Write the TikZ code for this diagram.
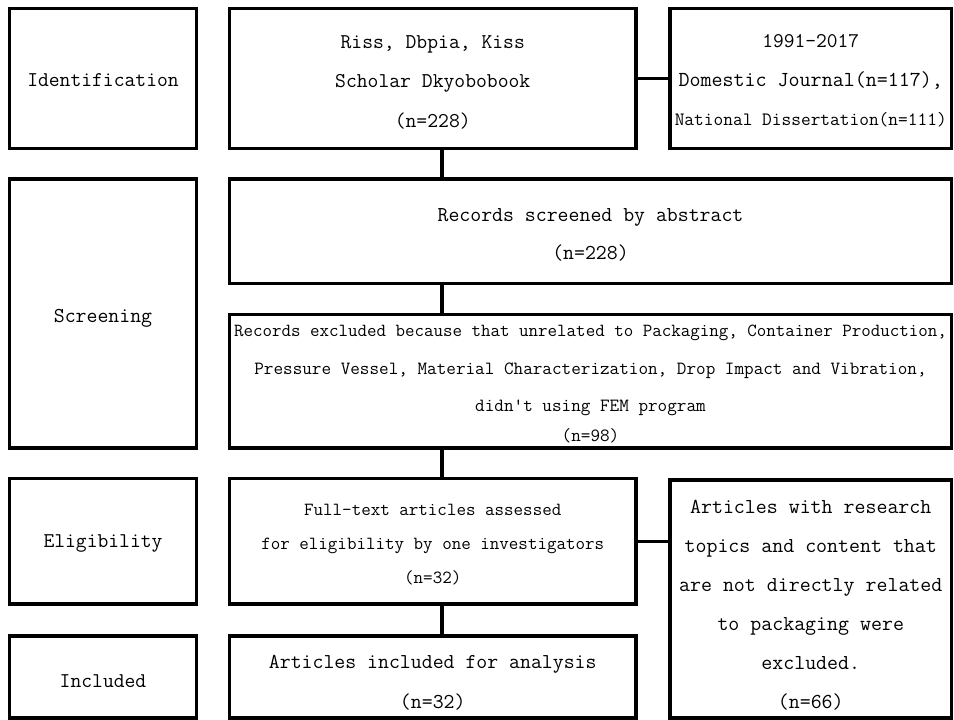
\documentclass[tikz,border=0pt]{standalone}
\newcommand{\fs}[2]{\fontsize{#1}{#2}\selectfont}
\tikzset{
  box/.style={draw, line width=3.2pt, inner sep=0pt, outer sep=0pt},
  txt/.style={inner sep=0pt, outer sep=0pt, align=center},
  conn/.style={line width=3.2pt},
}
\begin{document}
\begin{tikzpicture}[x=1pt,y=1pt]
\useasboundingbox (0,0) rectangle (954,-720);
% boxes
\node[box, minimum width=187pt, minimum height=140pt] (idl) at (103,-78.5) {};
\node[box, minimum width=187pt, minimum height=269pt] (scl) at (103,-313.5) {};
\node[box, minimum width=187pt, minimum height=125.5pt] (ell) at (103,-541.25) {};
\node[box, minimum width=187pt, minimum height=82pt] (inl) at (103,-677) {};
\node[box, minimum width=406.5pt, minimum height=140pt] (src) at (432.75,-78.5) {};
\node[box, minimum width=281.5pt, minimum height=140pt] (yrs) at (810.75,-78.5) {};
\node[box, minimum width=722pt, minimum height=104.5pt] (scr) at (590.5,-231.25) {};
\node[box, minimum width=722pt, minimum height=133.5pt] (exc) at (590.5,-381.25) {};
\node[box, minimum width=406.5pt, minimum height=125.5pt] (ft) at (432.75,-541.25) {};
\node[box, minimum width=281.5pt, minimum height=238pt] (art) at (810.75,-599) {};
\node[box, minimum width=406.5pt, minimum height=82pt] (inc) at (432.75,-677) {};
% texts
\node[txt, font={\ttfamily\fs{21}{24}}] (idlt) at ([yshift=-2pt]idl.center) {Identification};
\node[txt, font={\ttfamily\fs{21.2}{24}}] (sclt) at ([yshift=-5pt]scl.center) {Screening};
\node[txt, font={\ttfamily\fs{21}{24}}] (ellt) at ([yshift=-2pt]ell.center) {Eligibility};
\node[txt, font={\ttfamily\fs{21}{24}}] (inlt) at ([yshift=-4pt]inl.center) {Included};
\node[txt, font={\ttfamily\fs{21.05}{39.5}}] (srct) at ([yshift=-3.5pt]src.center)
  {Riss, Dbpia, Kiss\\Scholar Dkyobobook\\(n=228)};
\node[txt, font={\ttfamily\fs{20.9}{39}}] (yrst) at ([yshift=-2.5pt]yrs.center)
  {1991-2017\\{\fs{21.4}{39}Domestic Journal(n=117),}\\{\fs{18.86}{39}National Dissertation(n=111)}};
\node[txt, font={\ttfamily\fs{21.2}{38}}] (scrt) at ([yshift=-3.5pt]scr.center)
  {Records screened by abstract\\(n=228)};
\node[txt, font={\ttfamily\fs{18.65}{37.5}}] (exct) at ([yshift=-3pt]exc.center)
  {{\fs{18.45}{37.5}Records excluded because that unrelated to Packaging, Container Production,}\\Pressure Vessel, Material Characterization, Drop Impact and Vibration,\\didn't using FEM program\\[-7.5pt](n=98)};
\node[txt, font={\ttfamily\fs{18.5}{34}}] (ftt) at ([yshift=-3.5pt]ft.center)
  {Full-text articles assessed\\for eligibility by one investigators\\(n=32)};
\node[txt, font={\ttfamily\fs{21.3}{39}}] (artt) at ([yshift=-6pt]art.center)
  {Articles with research\\topics and content that\\are not directly related\\to packaging were\\excluded.\\(n=66)};
\node[txt, font={\ttfamily\fs{21.2}{40}}] (inct) at ([yshift=-6pt]inc.center)
  {Articles included for analysis\\(n=32)};
% connectors
\coordinate (cx) at (442,0);
\draw[conn] (src.east) -- (src.east -| yrs.west);
\draw[conn] (ft.east) -- (ft.east -| art.west);
\draw[conn] (src.south -| cx) -- (scr.north -| cx);
\draw[conn] (scr.south -| cx) -- (exc.north -| cx);
\draw[conn] (exc.south -| cx) -- (ft.north -| cx);
\draw[conn] (ft.south -| cx) -- (inc.north -| cx);
\end{tikzpicture}
\end{document}
